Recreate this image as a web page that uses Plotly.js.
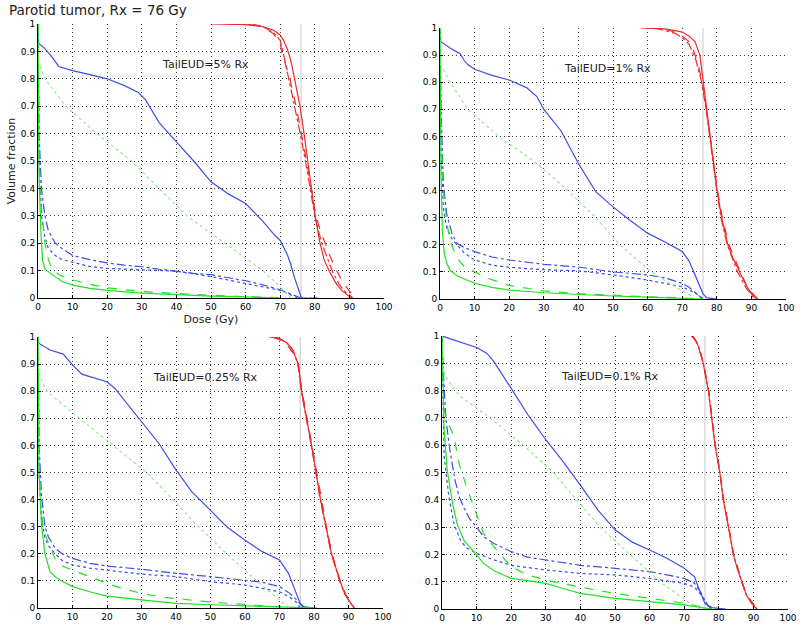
<!DOCTYPE html>
<html>
<head>
<meta charset="utf-8">
<script src="https://cdn.plot.ly/plotly-3.0.1.min.js"></script>
<style>html,body{margin:0;padding:0;background:#fff;}#chart{width:800px;height:632px;}</style>
</head>
<body>
<div id="chart"></div>
<script>
// ---------- Data: [dose (Gy), volume fraction] ----------
const panelLabels = ["TailEUD=5% Rx", "TailEUD=1% Rx", "TailEUD=0.25% Rx", "TailEUD=0.1% Rx"];
const rxDose = 76;
const xTicks = [0,10,20,30,40,50,60,70,80,90,100];
const yTicks = [0,0.1,0.2,0.3,0.4,0.5,0.6,0.7,0.8,0.9,1];

// Panel 1 (TailEUD=5% Rx)
const p1RedSolid = [[50,1],[60,0.998],[65,0.99],[68,0.978],[70,0.96],[71,0.94],[72,0.91],[73,0.87],[74,0.81],[75,0.74],[75.7,0.7],[76.9,0.6],[77.9,0.5],[78.9,0.4],[80.1,0.3],[81.5,0.2],[82.7,0.14],[84.1,0.1],[86.3,0.05],[88,0.025],[90,0.006],[91,0]];
const p1RedDash = [[62,1],[65,0.99],[68,0.965],[70,0.93],[70.4,0.9],[72.8,0.8],[74.6,0.7],[76.2,0.6],[77.6,0.5],[79,0.4],[80.3,0.3],[81.5,0.25],[83,0.2],[84.5,0.15],[86.3,0.1],[88,0.06],[90,0.025],[91.6,0]];
const p1RedDashDot = [[60,1],[65,0.99],[68,0.97],[70,0.94],[70.8,0.9],[72.5,0.8],[74.2,0.7],[75.8,0.6],[77.3,0.5],[78.7,0.4],[80,0.3],[82,0.2],[85,0.1],[87,0.05],[89,0.02],[91,0]];
const p1BlueSolid = [[0,1],[0.2,0.93],[2,0.91],[4,0.88],[6,0.845],[10,0.83],[15,0.815],[20,0.8],[25,0.775],[29,0.75],[31,0.725],[35,0.64],[40,0.57],[45,0.5],[50,0.424],[55,0.38],[60,0.345],[65,0.28],[68,0.235],[70,0.21],[72,0.16],[73,0.125],[74,0.08],[75,0.04],[76,0.005],[76.5,0],[81,0]];
const p1BlueDashDot = [[0,1],[0.3,0.6],[1,0.4],[2,0.3],[3,0.245],[5,0.2],[7,0.18],[10,0.155],[15,0.14],[20,0.128],[25,0.12],[30,0.114],[35,0.105],[40,0.097],[45,0.09],[50,0.085],[55,0.075],[60,0.063],[65,0.048],[70,0.03],[73,0.015],[75,0.005],[76,0]];
const p1BlueDot = [[0,1],[0.3,0.5],[1,0.3],[2,0.22],[3,0.18],[5,0.155],[7,0.14],[10,0.13],[15,0.115],[20,0.108],[30,0.103],[40,0.098],[50,0.078],[60,0.052],[70,0.028],[73,0.012],[75,0]];
const p1GreenSolid = [[0,1],[0.3,0.45],[0.8,0.25],[1.3,0.14],[2,0.105],[3,0.095],[5,0.078],[7,0.06],[10,0.047],[15,0.035],[20,0.028],[30,0.018],[40,0.012],[50,0.007],[60,0.004],[68,0.001],[70,0]];
const p1GreenDash = [[0,1],[0.3,0.5],[1,0.33],[2,0.2],[3,0.14],[4,0.11],[6,0.085],[10,0.066],[15,0.05],[20,0.037],[30,0.024],[40,0.016],[50,0.01],[60,0.005],[70,0.001],[72,0]];
const p1GreenDot = [[0,1],[0,0.87],[2,0.8],[5,0.75],[8,0.7],[17,0.6],[27,0.5],[35,0.4],[43,0.3],[54,0.2],[65,0.1],[70,0.04],[73,0]];

// Panel 2 (TailEUD=1% Rx)
const p2RedSolid = [[58,1],[65,0.997],[68,0.99],[70,0.985],[72,0.97],[73.7,0.95],[75.1,0.9],[76.1,0.8],[77.1,0.7],[78.1,0.6],[79,0.5],[80.1,0.4],[81.4,0.3],[83.2,0.2],[84.7,0.15],[86.5,0.1],[88.5,0.05],[90,0.02],[91.5,0]];
const p2RedDash = [[60,1],[65,0.995],[68,0.985],[70,0.97],[72,0.95],[73.2,0.92],[74.5,0.87],[75.8,0.8],[77,0.7],[78,0.6],[79.1,0.5],[80.2,0.4],[81.6,0.3],[83.5,0.2],[86.8,0.1],[89,0.04],[91.8,0]];
const p2RedDashDot = [[62,1],[68,0.98],[70,0.965],[72,0.94],[74,0.88],[75.6,0.8],[76.9,0.7],[77.9,0.6],[78.9,0.5],[80,0.4],[81.2,0.3],[83,0.2],[86,0.1],[88.5,0.04],[91,0]];
const p2BlueSolid = [[0,1],[0.2,0.95],[3,0.925],[5.8,0.905],[7,0.88],[8,0.865],[10,0.848],[15,0.825],[20,0.808],[25,0.78],[28,0.747],[30,0.7],[35,0.62],[40,0.5],[45,0.396],[50,0.34],[55,0.29],[60,0.243],[65,0.21],[70,0.175],[72,0.14],[74,0.08],[76,0.02],[77,0.005],[80,0]];
const p2BlueDashDot = [[0,1],[0.3,0.7],[1,0.42],[2,0.31],[3.5,0.24],[5,0.205],[7,0.19],[10,0.175],[15,0.155],[20,0.144],[30,0.128],[40,0.118],[50,0.1],[60,0.089],[65,0.078],[70,0.058],[72,0.043],[74,0.02],[76,0]];
const p2BlueDot = [[0,1],[0.3,0.55],[1,0.33],[2,0.26],[3.5,0.22],[5,0.2],[7,0.17],[10,0.144],[15,0.125],[20,0.117],[30,0.108],[40,0.104],[50,0.089],[60,0.07],[70,0.045],[74,0.02],[76,0]];
const p2GreenSolid = [[0,1],[0.3,0.45],[0.7,0.25],[1.2,0.17],[2,0.13],[3,0.105],[5,0.085],[10,0.058],[15,0.043],[20,0.033],[30,0.023],[40,0.016],[50,0.011],[60,0.007],[70,0.003],[76,0]];
const p2GreenDash = [[0,1],[0.3,0.6],[1,0.4],[2,0.28],[3,0.21],[5,0.15],[7,0.12],[10,0.1],[13,0.08],[20,0.05],[30,0.03],[40,0.02],[50,0.013],[60,0.008],[70,0.004],[76,0]];
const p2GreenDot = [[0,1],[0,0.87],[3,0.8],[8,0.7],[17,0.6],[28,0.5],[37,0.4],[45,0.3],[52,0.2],[61,0.1],[70,0.03],[74,0]];

// Panel 3 (TailEUD=0.25% Rx)
const p3RedSolid = [[67,1],[70,0.995],[72,0.98],[73.5,0.96],[74.5,0.93],[75.5,0.9],[76.4,0.8],[77.9,0.7],[79.3,0.6],[80.6,0.5],[81.9,0.4],[83.5,0.3],[85.1,0.2],[86.3,0.15],[87.5,0.1],[89,0.05],[90.5,0.02],[91.6,0]];
const p3RedDash = [[68,1],[70,0.99],[72,0.975],[74,0.94],[75.4,0.9],[76.5,0.8],[78,0.7],[79.4,0.6],[80.7,0.5],[82,0.4],[83.6,0.3],[85.2,0.2],[87.6,0.1],[89.2,0.05],[91.7,0]];
const p3RedDashDot = [[69,1],[72,0.98],[74,0.95],[75.3,0.9],[76.3,0.8],[77.8,0.7],[79.2,0.6],[80.5,0.5],[81.8,0.4],[83.4,0.3],[85,0.2],[87.4,0.1],[89,0.05],[91.5,0]];
const p3BlueSolid = [[0,1],[0.2,0.977],[3.5,0.952],[7.3,0.937],[10,0.897],[12.7,0.863],[15,0.854],[20,0.835],[22.3,0.81],[25.7,0.755],[30,0.688],[35,0.608],[40,0.51],[44.5,0.43],[50,0.36],[54.7,0.3],[60,0.25],[65,0.208],[70,0.177],[72.6,0.128],[74.5,0.066],[76,0.017],[77,0.005],[80,0]];
const p3BlueDashDot = [[0,1],[0.3,0.6],[1,0.42],[2,0.3],[3,0.263],[5,0.22],[7,0.2],[10,0.183],[15,0.165],[20,0.155],[30,0.143],[40,0.128],[50,0.116],[60,0.103],[65,0.095],[70,0.079],[73,0.054],[75,0.03],[77,0]];
const p3BlueDot = [[0,1],[0.3,0.5],[1,0.33],[2,0.26],[3,0.23],[5,0.2],[7,0.175],[10,0.159],[15,0.147],[20,0.14],[30,0.125],[40,0.116],[50,0.097],[60,0.085],[70,0.06],[73,0.04],[75,0.02],[76,0]];
const p3GreenSolid = [[0,1],[0.3,0.5],[1,0.31],[2,0.2],[3.5,0.134],[5,0.115],[6.4,0.103],[10,0.079],[15,0.06],[20,0.044],[30,0.03],[40,0.017],[50,0.012],[60,0.008],[70,0.004],[80,0.001],[81,0]];
const p3GreenDash = [[0,1],[0.3,0.55],[0.8,0.38],[1.5,0.29],[3,0.24],[5,0.18],[7,0.155],[10,0.14],[15,0.116],[20,0.091],[25,0.07],[30,0.054],[36,0.04],[40,0.035],[50,0.022],[60,0.013],[70,0.006],[75,0]];
const p3GreenDot = [[0,1],[0,0.89],[1,0.84],[2.5,0.8],[12,0.7],[21.8,0.6],[31.5,0.5],[39.2,0.4],[46.5,0.3],[54.7,0.2],[63.4,0.1],[70,0.03],[73,0]];

// Panel 4 (TailEUD=0.1% Rx)
const p4RedSolid = [[72,1],[73,0.99],[74,0.965],[75.5,0.9],[77,0.8],[78,0.7],[78.9,0.6],[80.3,0.5],[81.3,0.4],[82.8,0.3],[84.2,0.2],[85.3,0.15],[86.6,0.1],[88,0.05],[89.5,0.02],[91,0]];
const p4RedDash = [[72.5,1],[74,0.97],[75.6,0.9],[77.1,0.8],[78.1,0.7],[79,0.6],[80.4,0.5],[81.4,0.4],[82.9,0.3],[84.3,0.2],[86.7,0.1],[88.1,0.05],[91.1,0]];
const p4RedDashDot = [[72.3,1],[74,0.968],[75.5,0.9],[77,0.8],[78,0.7],[78.9,0.6],[80.3,0.5],[81.3,0.4],[82.8,0.3],[84.2,0.2],[86.6,0.1],[88,0.05],[91,0]];
const p4BlueSolid = [[0,1],[5,0.979],[10,0.958],[13,0.936],[15,0.906],[20,0.808],[25,0.708],[30,0.62],[35,0.54],[40,0.454],[45,0.363],[50,0.29],[55,0.245],[60,0.216],[65,0.186],[70,0.149],[73,0.118],[74,0.082],[75,0.05],[76,0.02],[78,0.005],[82,0]];
const p4BlueDashDot = [[0,1],[0.3,0.89],[1.1,0.7],[2.3,0.58],[3.8,0.47],[5,0.41],[6.4,0.37],[8,0.33],[10,0.3],[12,0.265],[15,0.24],[20,0.21],[24.7,0.19],[30,0.18],[36,0.17],[40,0.16],[50,0.149],[60,0.137],[65,0.125],[70,0.112],[73,0.094],[75,0.057],[76,0.03],[77,0.01],[78,0]];
const p4BlueDot = [[0,1],[0.3,0.7],[0.6,0.56],[2,0.41],[3.5,0.31],[5.4,0.25],[7,0.225],[10,0.204],[15,0.18],[20,0.16],[30,0.143],[40,0.13],[50,0.125],[60,0.112],[70,0.094],[73,0.08],[75,0.05],[77,0.01],[78,0]];
const p4GreenSolid = [[0,1],[0.3,0.8],[0.6,0.66],[1.5,0.51],[3,0.39],[4.4,0.31],[6.4,0.25],[10,0.198],[12,0.167],[15,0.14],[20,0.112],[24.7,0.104],[30,0.094],[35,0.075],[40,0.057],[50,0.039],[60,0.027],[70,0.015],[75,0.005],[78,0]];
const p4GreenDash = [[0,1],[0.3,0.8],[0.8,0.72],[1.5,0.69],[3.5,0.63],[5,0.53],[7.3,0.44],[10,0.35],[12,0.277],[15,0.228],[20,0.155],[24.7,0.125],[30,0.106],[40,0.08],[50,0.057],[60,0.039],[70,0.021],[75,0.008],[78,0]];
const p4GreenDot = [[0,1],[0,0.9],[1,0.85],[5.2,0.78],[13.9,0.7],[23.5,0.6],[32.2,0.5],[38.9,0.4],[45.7,0.3],[54.3,0.2],[63,0.1],[70.7,0.03],[74.6,0]];

// ---------- Styling ----------
const RED = '#ee2a2a', BLUE = '#3d4ee6', GREEN = '#22e022', LIGHTGREEN = '#8fea8f';
const panels = [
  [p1RedSolid,p1RedDash,p1RedDashDot,p1BlueSolid,p1BlueDashDot,p1BlueDot,p1GreenSolid,p1GreenDash,p1GreenDot],
  [p2RedSolid,p2RedDash,p2RedDashDot,p2BlueSolid,p2BlueDashDot,p2BlueDot,p2GreenSolid,p2GreenDash,p2GreenDot],
  [p3RedSolid,p3RedDash,p3RedDashDot,p3BlueSolid,p3BlueDashDot,p3BlueDot,p3GreenSolid,p3GreenDash,p3GreenDot],
  [p4RedSolid,p4RedDash,p4RedDashDot,p4BlueSolid,p4BlueDashDot,p4BlueDot,p4GreenSolid,p4GreenDash,p4GreenDot]
];
const styles = [
  {color:RED, dash:'solid'}, {color:RED, dash:'dash'}, {color:RED, dash:'dashdot'},
  {color:BLUE, dash:'solid'}, {color:BLUE, dash:'dashdot'}, {color:BLUE, dash:'dot'},
  {color:GREEN, dash:'solid'}, {color:GREEN, dash:'dash'}, {color:LIGHTGREEN, dash:'dot'}
];

const traces = [];
panels.forEach((curves, pi) => {
  const sfx = pi === 0 ? '' : String(pi + 1);
  curves.forEach((pts, ci) => {
    traces.push({
      type: 'scatter', mode: 'lines',
      x: pts.map(p => p[0]), y: pts.map(p => p[1]),
      xaxis: 'x' + sfx, yaxis: 'y' + sfx,
      line: {color: styles[ci].color, dash: styles[ci].dash, width: 1.2},
      showlegend: false, hoverinfo: 'skip'
    });
  });
});

// pixel-derived domains (margins are zero)
const W = 800, H = 632;
const boxes = [
  {l:38, r:384, t:24, b:298},
  {l:440, r:786, t:28, b:299},
  {l:38, r:383, t:337, b:608},
  {l:442, r:788, t:336, b:609}
];

function axisCommon() {
  return {
    ticks: 'inside', ticklen: 3, tickcolor: '#000',
    showline: true, linecolor: '#000', linewidth: 1, mirror: false,
    showgrid: true, gridcolor: '#3a3a3a', griddash: '1px,3px', gridwidth: 1, zeroline: false,
    tickfont: {size: 9, color: '#000', family: 'DejaVu Sans'}, automargin: false, fixedrange: true
  };
}
function xAxis(i, box) {
  return Object.assign(axisCommon(), {
    domain: [box.l / W, box.r / W], range: [0, 100], anchor: 'y' + (i === 0 ? '' : i + 1),
    tickvals: xTicks, ticktext: xTicks.map(String)
  });
}
function yAxis(i, box) {
  return Object.assign(axisCommon(), {
    domain: [1 - box.b / H, 1 - box.t / H], range: [0, 1], anchor: 'x' + (i === 0 ? '' : i + 1),
    tickvals: yTicks, ticktext: yTicks.map(String)
  });
}

const layout = {
  width: W, height: H,
  margin: {l: 0, r: 0, t: 0, b: 0},
  paper_bgcolor: '#fff', plot_bgcolor: '#fff',
  font: {family: 'DejaVu Sans', color: '#222'},
  showlegend: false,
  title: {text: 'Parotid tumor, Rx = 76 Gy', x: 9 / W, xanchor: 'left', xref: 'paper',
          y: 1 - 10 / H, yanchor: 'middle', yref: 'paper', font: {size: 13.5, color: '#222'}},
  shapes: [],
  annotations: []
};

boxes.forEach((box, i) => {
  const sfx = i === 0 ? '' : String(i + 1);
  layout['xaxis' + sfx] = xAxis(i, box);
  layout['yaxis' + sfx] = yAxis(i, box);
  layout.shapes.push({type: 'line', xref: 'x' + sfx, yref: 'y' + sfx + ' domain',
    x0: rxDose, x1: rxDose, y0: 0, y1: 1, line: {color: '#c8c8c8', width: 1}, layer: 'below'});
  layout.annotations.push({text: panelLabels[i], xref: 'x' + sfx, yref: 'y' + sfx,
    x: 48.5, y: 0.852, showarrow: false, xanchor: 'center', yanchor: 'middle',
    font: {size: 11, color: '#222', family: 'DejaVu Sans'}});
});

// axis titles for first panel
layout.xaxis.title = {text: 'Dose (Gy)', font: {size: 11, color: '#222'}, standoff: 4};
layout.yaxis.title = {text: 'Volume fraction', font: {size: 11, color: '#222'}, standoff: 3};

Plotly.newPlot('chart', traces, layout, {staticPlot: true, displayModeBar: false});
</script>
</body>
</html>
